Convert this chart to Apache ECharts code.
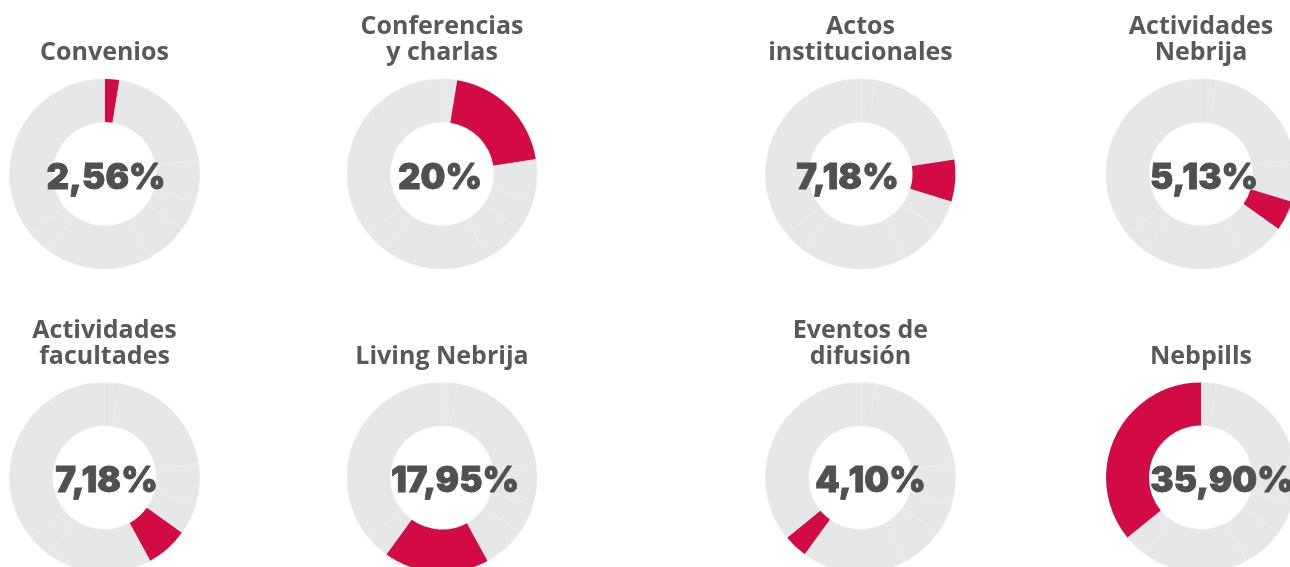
<!DOCTYPE html>
<html>
<head>
<meta charset="utf-8">
<script src="https://cdn.jsdelivr.net/npm/echarts@6/dist/echarts.min.js"></script>
<style>
  html, body { margin: 0; padding: 0; background: #ffffff; }
  #chart { width: 1290px; height: 567px; }
</style>
</head>
<body>
<div id="chart"></div>
<script>
// Share of each activity type (percent of the total)
const categories = [
  'Convenios', 'Conferencias y charlas', 'Actos institucionales', 'Actividades Nebrija',
  'Actividades facultades', 'Living Nebrija', 'Eventos de difusión', 'Nebpills'
];
const titleLines = [
  'Convenios', 'Conferencias\ny charlas', 'Actos\ninstitucionales', 'Actividades\nNebrija',
  'Actividades\nfacultades', 'Living Nebrija', 'Eventos de\ndifusión', 'Nebpills'
];
const shares = [2.56, 20, 7.18, 5.13, 7.18, 17.95, 4.10, 35.90];

// Grid layout: 4 columns x 2 rows of donuts
const colX = [104.5, 442, 860.5, 1201];
const rowY = [174, 477.5];
const labelShift = [1.5, -2, -13, 3, 2, 13, 10, 21];

const RED = '#d20b44';
const GREY = '#e6e7e8';
const SEP = '#ebeced';
const VALUE_INK = '#4f5052';

function fmt(v) {
  return (Number.isInteger(v) ? String(v) : v.toFixed(2).replace('.', ',')) + '%';
}

const series = [];
const titles = [];
categories.forEach((name, i) => {
  const cx = colX[i % 4];
  const cy = rowY[Math.floor(i / 4)];
  series.push({
    type: 'pie',
    name: name,
    center: [cx, cy],
    radius: [52, 95],
    startAngle: 90,
    clockwise: true,
    silent: true,
    label: { show: false },
    labelLine: { show: false },
    data: categories.map((c, j) => ({
      name: c,
      value: shares[j],
      itemStyle: j === i
        ? { color: RED, borderColor: RED, borderWidth: 0 }
        : { color: GREY, borderColor: SEP, borderWidth: 0.8 }
    }))
  });
  titles.push({
    text: titleLines[i],
    left: cx,
    bottom: 567 - (cy - 108),
    textAlign: 'center',
    padding: 0,
    itemGap: 0,
    textStyle: {
      fontFamily: '"Open Sans", "Noto Sans", sans-serif',
      fontWeight: 'bold',
      fontSize: 25,
      lineHeight: 26,
      color: '#58595b'
    }
  });
  titles.push({
    text: fmt(shares[i]),
    left: cx + labelShift[i],
    top: cy + 4,
    textAlign: 'center',
    textVerticalAlign: 'middle',
    padding: 0,
    textStyle: {
      fontFamily: 'Inter, Lato, sans-serif',
      fontWeight: 900,
      fontSize: 35,
      color: VALUE_INK,
      textBorderColor: VALUE_INK,
      textBorderWidth: 0.8
    }
  });
});

const chart = echarts.init(document.getElementById('chart'), null, { renderer: 'canvas' });
chart.setOption({
  animation: false,
  backgroundColor: '#ffffff',
  title: titles,
  series: series
});
</script>
</body>
</html>
